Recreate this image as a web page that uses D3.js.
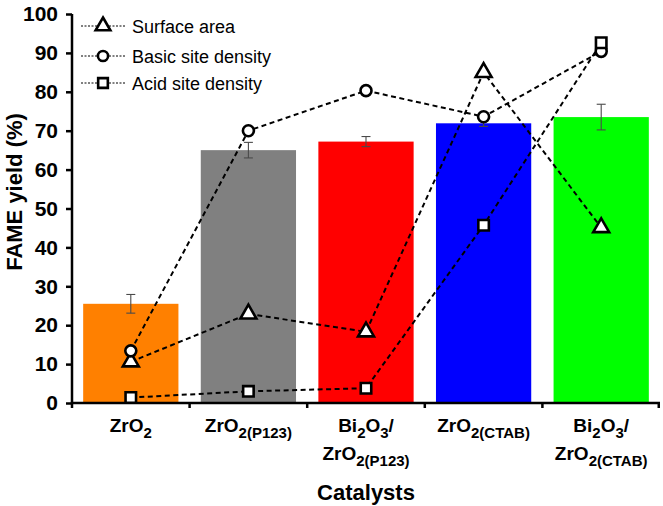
<!DOCTYPE html>
<html><head><meta charset="utf-8">
<script src="https://cdn.jsdelivr.net/npm/d3@7"></script>
<style>body{margin:0;background:#fff}svg{display:block}text{font-family:"Liberation Sans",Arial,sans-serif}</style>
</head><body><svg id="c" width="663" height="506"></svg>
<script>
const categories = ["ZrO2","ZrO2(P123)","Bi2O3/ZrO2(P123)","ZrO2(CTAB)","Bi2O3/ZrO2(CTAB)"];
// label lines: segments of [text, isSubscript]
const labelLines = [
  [[["ZrO",0],["2",1]]],
  [[["ZrO",0],["2(P123)",1]]],
  [[["Bi",0],["2",1],["O",0],["3",1],["/",0]],[["ZrO",0],["2(P123)",1]]],
  [[["ZrO",0],["2(CTAB)",1]]],
  [[["Bi",0],["2",1],["O",0],["3",1],["/",0]],[["ZrO",0],["2(CTAB)",1]]]
];
const barColors = ["#ff8000","#808080","#ff0000","#0000ff","#00ff00"];
const fameYield = [25.5, 65.0, 67.2, 71.9, 73.5];
const yieldErr = [2.4, 2.0, 1.3, 0.8, 3.3];
const surfaceArea = [10.6, 22.9, 18.3, 85.0, 45.1];
const basicSite = [13.4, 70.0, 80.3, 73.6, 90.4];
const acidSite = [1.4, 3.0, 3.8, 45.7, 92.6];
const yTicks = [0,10,20,30,40,50,60,70,80,90,100];
const seriesNames = ["Surface area","Basic site density","Acid site density"];

const svg = d3.select("#c");
const x = d3.scaleBand().domain(categories).range([72, 660]).paddingInner(0.19).paddingOuter(0.095);
const y = d3.scaleLinear().domain([0,100]).range([403, 14]);

// bars
svg.selectAll("rect.bar").data(categories).join("rect")
  .attr("x", d => x(d)).attr("width", x.bandwidth())
  .attr("y", (d,i) => y(fameYield[i])).attr("height", (d,i) => y(0) - y(fameYield[i]))
  .attr("fill", (d,i) => barColors[i]);

// error bars
const eg = svg.append("g").attr("stroke", "#4a4a4a").attr("stroke-width", 1.1);
categories.forEach((c,i) => {
  const cx = x(c) + x.bandwidth()/2;
  eg.append("line").attr("x1",cx).attr("x2",cx).attr("y1",y(fameYield[i]+yieldErr[i])).attr("y2",y(fameYield[i]-yieldErr[i]));
  [fameYield[i]+yieldErr[i], fameYield[i]-yieldErr[i]].forEach(v => {
    eg.append("line").attr("x1",cx-4.5).attr("x2",cx+4.5).attr("y1",y(v)).attr("y2",y(v));
  });
});

// axes
const yAxis = svg.append("g").attr("transform","translate(72,0)")
  .call(d3.axisLeft(y).tickValues(yTicks).tickSize(6).tickPadding(8));
yAxis.select(".domain").attr("stroke-width",2.5).attr("d","M0,14V403");
yAxis.selectAll(".tick line").attr("stroke-width",2.5);
yAxis.selectAll(".tick text").attr("font-size",21).attr("font-weight","bold").attr("font-family","Liberation Sans, Arial, sans-serif").attr("fill","#000");

const [r0, r1] = x.range();
const boundaries = [r0].concat(categories.slice(1).map(c => x(c) - x.step()*x.paddingInner()/2), [r1 - 1.25]);
const xg = svg.append("g");
xg.append("line").attr("x1",70.75).attr("x2",r1).attr("y1",y(0)).attr("y2",y(0)).attr("stroke","#000").attr("stroke-width",2.5);
boundaries.forEach(b => xg.append("line").attr("x1",b).attr("x2",b).attr("y1",y(0)).attr("y2",y(0)+5).attr("stroke","#000").attr("stroke-width",2.5));

// x labels
categories.forEach((c,i) => {
  const cx = x(c) + x.bandwidth()/2;
  labelLines[i].forEach((segs, li) => {
    const t = svg.append("text").attr("x", cx).attr("y", 432 + li*28).attr("text-anchor","middle")
      .attr("font-size",19).attr("font-weight","bold");
    let shifted = false;
    segs.forEach(([s, sub]) => {
      const ts = t.append("tspan").text(s);
      if (sub && !shifted) { ts.attr("font-size",15).attr("dy",6); shifted = true; }
      else if (sub) { ts.attr("font-size",15); }
      else if (!sub && shifted) { ts.attr("dy",-6); shifted = false; }
    });
  });
});

svg.append("text").attr("x", 366).attr("y", 500).attr("text-anchor","middle")
  .attr("font-size",22).attr("font-weight","bold").text("Catalysts");
svg.append("text").attr("transform","translate(22,192) rotate(-90)").attr("text-anchor","middle")
  .attr("font-size",22).attr("font-weight","bold").text("FAME yield (%)");

// lines + markers
const seriesData = [surfaceArea, basicSite, acidSite];
const symbols = [d3.symbolTriangle, d3.symbolCircle, d3.symbolSquare];
const symSizes = [110, 95, 110];
const line = d3.line().x((d,i) => x(categories[i]) + x.bandwidth()/2).y(d => y(d));
seriesData.forEach(arr => {
  svg.append("path").attr("d", line(arr)).attr("fill","none").attr("stroke","#000")
    .attr("stroke-width",2).attr("stroke-dasharray","5,3.5");
});
seriesData.forEach((arr, s) => {
  svg.selectAll(null).data(arr).join("path")
    .attr("transform", (d,i) => `translate(${x(categories[i]) + x.bandwidth()/2},${y(d)})`)
    .attr("d", d3.symbol().type(symbols[s]).size(symSizes[s]))
    .attr("fill","#fff").attr("stroke","#000").attr("stroke-width",2.6);
});

// legend
const legY = [26, 56, 83];
seriesNames.forEach((n, s) => {
  const g = svg.append("g").attr("transform", `translate(0,${legY[s]})`);
  g.append("line").attr("x1",81).attr("x2",125).attr("y1",0).attr("y2",0)
    .attr("stroke","#000").attr("stroke-width",1).attr("stroke-dasharray","2,1.5");
  g.append("path").attr("transform","translate(103,0)").attr("d", d3.symbol().type(symbols[s]).size(symSizes[s]*0.85))
    .attr("fill","#fff").attr("stroke","#000").attr("stroke-width",2.6);
  g.append("text").attr("x",132).attr("y",6.5).attr("font-size",18).text(n);
});
</script></body></html>
